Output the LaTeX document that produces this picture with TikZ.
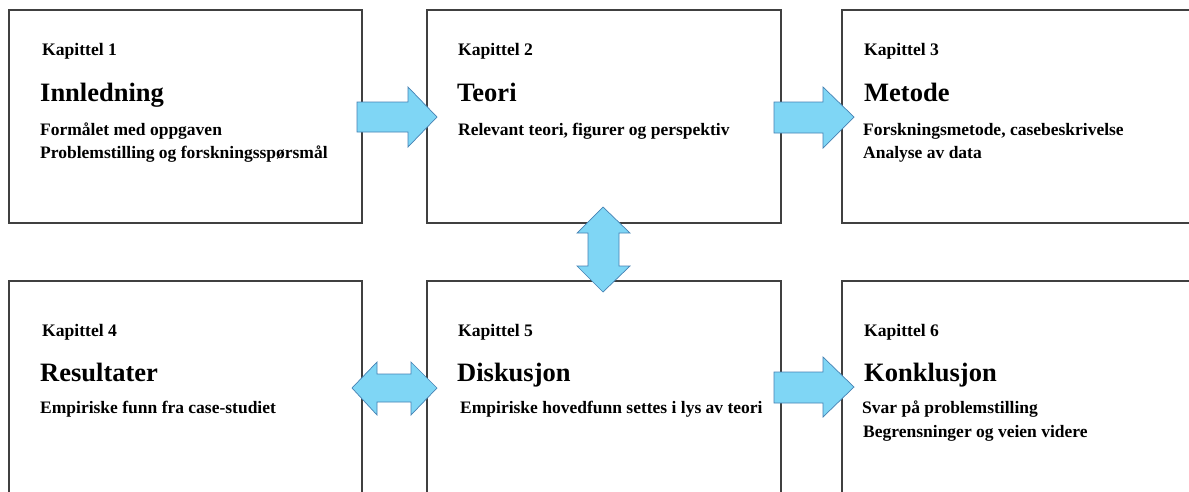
\documentclass[tikz,border=0pt]{standalone}
\usepackage{fontspec}
\setmainfont{Liberation Serif}
\begin{document}
\definecolor{arrowfill}{RGB}{127,214,245}
\definecolor{arrowline}{RGB}{70,130,180}
\definecolor{boxline}{RGB}{64,64,64}
\begin{tikzpicture}[x=1pt,y=-1pt,
  chapbox/.style={draw=boxline,line width=1.6pt,fill=white},
  blockarrow/.style={fill=arrowfill,draw=arrowline,line width=0.7pt,line join=miter},
  kap/.style={anchor=base west,inner sep=0pt,font=\fontsize{17.6}{20}\selectfont\bfseries},
  ttl/.style={anchor=base west,inner sep=0pt,font=\fontsize{26.5}{30}\selectfont\bfseries},
  txt/.style={anchor=base west,inner sep=0pt,font=\fontsize{17.5}{20}\selectfont\bfseries}]
\useasboundingbox (0,0) rectangle (1189,491);
\fill[white] (0,0) rectangle (1189,491);

% chapter boxes
\draw[chapbox] (9,10) rectangle (362,223);
\draw[chapbox] (427,10) rectangle (781,223);
\draw[chapbox] (842,10) rectangle (1200,223);
\draw[chapbox] (9,281) rectangle (362,500);
\draw[chapbox] (427,281) rectangle (781,500);
\draw[chapbox] (842,281) rectangle (1200,500);

% block arrows
\draw[blockarrow] (357,102) -- (408,102) -- (408,87) -- (437,117) -- (408,147) -- (408,132) -- (357,132) -- cycle;
\draw[blockarrow] (774,102) -- (823,102) -- (823,87) -- (854,117) -- (823,148) -- (823,133) -- (774,133) -- cycle;
\draw[blockarrow] (774,372) -- (823,372) -- (823,357) -- (854,387) -- (823,417) -- (823,403) -- (774,403) -- cycle;
\draw[blockarrow] (352,388) -- (377,362) -- (377,374) -- (411,374) -- (411,362) -- (437,388) -- (411,415) -- (411,402) -- (377,402) -- (377,415) -- cycle;
\draw[blockarrow] (603,207) -- (630,233) -- (619,233) -- (619,266) -- (630,266) -- (603,292) -- (577,266) -- (588,266) -- (588,233) -- (577,233) -- cycle;

% chapter 1
\node[kap] (k1) at (42,55) {Kapittel 1};
\node[ttl] (t1) at (40,101) {Innledning};
\node[txt] (a1) at (40,135) {Formålet med oppgaven};
\node[txt] (b1) at (40,158) {Problemstilling og forskningsspørsmål};
% chapter 2
\node[kap] (k2) at (458,55) {Kapittel 2};
\node[ttl] (t2) at (457,101) {Teori};
\node[txt] (a2) at (458,135) {Relevant teori, figurer og perspektiv};
% chapter 3
\node[kap] (k3) at (864,55) {Kapittel 3};
\node[ttl] (t3) at (864,101) {Metode};
\node[txt] (a3) at (863,135) {Forskningsmetode, casebeskrivelse};
\node[txt] (b3) at (863,158) {Analyse av data};
% chapter 4
\node[kap] (k4) at (42,336) {Kapittel 4};
\node[ttl] (t4) at (40,381) {Resultater};
\node[txt] (a4) at (40,413) {Empiriske funn fra case-studiet};
% chapter 5
\node[kap] (k5) at (458,336) {Kapittel 5};
\node[ttl] (t5) at (457,381) {Diskusjon};
\node[txt] (a5) at (460,413) {Empiriske hovedfunn settes i lys av teori};
% chapter 6
\node[kap] (k6) at (864,336) {Kapittel 6};
\node[ttl] (t6) at (864,381) {Konklusjon};
\node[txt] (a6) at (862,413) {Svar på problemstilling};
\node[txt] (b6) at (863,437) {Begrensninger og veien videre};
\end{tikzpicture}
\end{document}
